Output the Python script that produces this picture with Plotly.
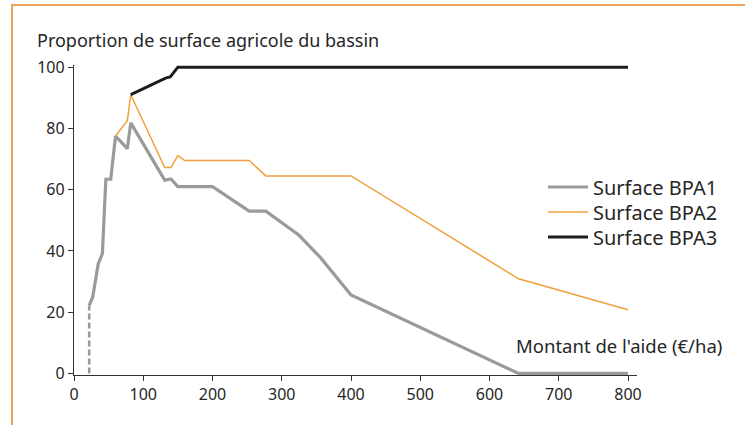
import plotly.graph_objects as go

# ---- data ----
bpa1_x = [22, 27, 35, 41, 46, 53, 60, 77, 82, 131, 140, 150, 200, 253, 277, 325, 356, 400, 642, 800]
bpa1_y = [22.2, 24.9, 35.8, 39.1, 63.4, 63.4, 77.5, 73.4, 81.8, 63.1, 63.5, 61.0, 61.0, 53.0, 53.0, 45.1, 37.8, 25.6, 0, 0]
bpa1_dash_x = [22, 22]
bpa1_dash_y = [0, 22.2]

bpa2_x = [60, 77, 82, 131, 140, 150, 160, 253, 277, 400, 642, 800]
bpa2_y = [77.5, 82.5, 91.0, 67.2, 67.2, 71.1, 69.5, 69.5, 64.5, 64.5, 30.9, 20.8]

bpa3_x = [82, 133, 139, 150, 800]
bpa3_y = [91.0, 96.5, 96.8, 100, 100]

x_ticks = [0, 100, 200, 300, 400, 500, 600, 700, 800]
y_ticks = [0, 20, 40, 60, 80, 100]

names = ["Surface BPA1", "Surface BPA2", "Surface BPA3"]
y_title = "Proportion de surface agricole du bassin"
x_title = "Montant de l'aide (€/ha)"

# ---- layout geometry ----
W, H = 745, 425
ML, MR, MT, MB = 74, 108, 65, 50
PW, PH = W - ML - MR, H - MT - MB


def px(xp):
    return (xp - ML) / PW


def py(yp):
    return (H - MB - yp) / PH


FONT = "Noto Sans"
TXT = "#262626"
GRAY = "#9a9a9c"
ORANGE = "#f0a03c"
BLACK = "#1c1c1c"
FRAME = "#eaa45a"

fig = go.Figure()
fig.add_trace(go.Scatter(x=bpa1_dash_x, y=bpa1_dash_y, mode="lines",
                         line=dict(color=GRAY, width=2.6, dash="6px,3px"),
                         showlegend=False, hoverinfo="skip"))
fig.add_trace(go.Scatter(x=bpa1_x, y=bpa1_y, mode="lines", name=names[0],
                         line=dict(color=GRAY, width=3.2), legend="legend"))
fig.add_trace(go.Scatter(x=bpa2_x, y=bpa2_y, mode="lines", name=names[1],
                         line=dict(color=ORANGE, width=1.5), legend="legend2"))
fig.add_trace(go.Scatter(x=bpa3_x, y=bpa3_y, mode="lines", name=names[2],
                         line=dict(color=BLACK, width=3), legend="legend3"))

axis_common = dict(showline=True, linecolor="#333333", linewidth=1.3,
                   ticks="outside", ticklen=5, tickwidth=1.3, tickcolor="#333333",
                   showgrid=False, zeroline=False,
                   tickfont=dict(family=FONT, size=16, color=TXT))

fig.update_xaxes(range=[0, 813], tickvals=x_ticks, **axis_common)
fig.update_yaxes(range=[-0.5, 100.7], tickvals=y_ticks, **axis_common)


def leg(yc):
    return dict(x=px(543), y=py(yc), xanchor="left", yanchor="middle",
                font=dict(family=FONT, size=20, color=TXT),
                bgcolor="rgba(0,0,0,0)", itemwidth=40)


fig.update_layout(
    width=W, height=H,
    margin=dict(l=ML, r=MR, t=MT, b=MB),
    paper_bgcolor="white", plot_bgcolor="white",
    font=dict(family=FONT, color=TXT),
    legend=leg(187), legend2=leg(212), legend3=leg(237),
    annotations=[
        dict(text=y_title, xref="paper", yref="paper", x=px(35), y=py(40),
             xanchor="left", yanchor="middle", showarrow=False,
             font=dict(family=FONT, size=18, color=TXT)),
        dict(text=x_title, xref="paper", yref="paper", x=px(724), y=py(345),
             xanchor="right", yanchor="middle", showarrow=False,
             font=dict(family=FONT, size=18.5, color=TXT)),
    ],
    shapes=[
        dict(type="line", xref="paper", yref="paper", x0=px(11), x1=px(W + 5),
             y0=py(5), y1=py(5), line=dict(color=FRAME, width=2)),
        dict(type="line", xref="paper", yref="paper", x0=px(12), x1=px(12),
             y0=py(5), y1=py(H + 5), line=dict(color=FRAME, width=2)),
    ],
)

fig.write_html(
    "out.html",
    config={"displayModeBar": False},
    post_script="document.body.style.margin='0';document.body.style.overflow='hidden';",
)
